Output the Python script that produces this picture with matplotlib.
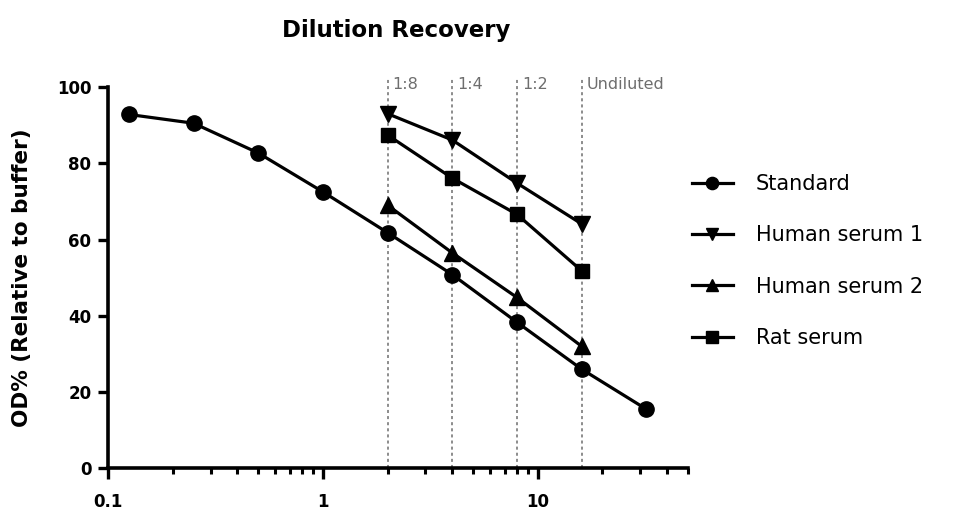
import matplotlib
matplotlib.use("Agg")
import matplotlib.pyplot as plt
from matplotlib.ticker import LogLocator, FixedLocator, FixedFormatter, NullFormatter

# ---- data ----
standard_x = [0.125, 0.25, 0.5, 1, 2, 4, 8, 16, 32]
standard_y = [92.8, 90.5, 82.7, 72.5, 61.8, 50.8, 38.3, 26.0, 15.5]

serum_x = [2, 4, 8, 16]
human1_y = [93.0, 86.1, 74.8, 64.1]
human2_y = [69.0, 56.5, 44.8, 32.0]
rat_y = [87.4, 76.1, 66.6, 51.8]

dilution_x = [2, 4, 8, 16]
dilution_labels = ["1:8", "1:4", "1:2", "Undiluted"]

x_ticks = [0.1, 1, 10]
x_tick_labels = ["0.1", "1", "10"]
y_ticks = [0, 20, 40, 60, 80, 100]

title = "Dilution Recovery"
y_label = "OD% (Relative to buffer)"

W, H = 976, 513
fig = plt.figure(figsize=(W / 100, H / 100), dpi=100)
ax_l, ax_r, ax_b, ax_t = 108, 688, 468.3, 87
ax = fig.add_axes([ax_l / W, 1 - ax_b / H, (ax_r - ax_l) / W, (ax_b - ax_t) / H])

ax.set_xscale("log")
ax.set_xlim(0.1, 50)
ax.set_ylim(0, 100)

# dilution reference lines
for xv, lab in zip(dilution_x, dilution_labels):
    ax.axvline(xv, ymin=0, ymax=1.025, color="#6e6e6e", lw=1.1,
               linestyle=(0, (2.0, 2.0)), clip_on=False, zorder=1)
    ax.annotate(lab, xy=(xv, 100.6), xytext=(3.5, 0), textcoords="offset points",
                ha="left", va="center", fontsize=11.5, color="#6e6e6e",
                annotation_clip=False)

lw = 2.3
ax.plot(standard_x, standard_y, color="black", lw=lw, marker="o", ms=11,
        label="Standard", zorder=3, clip_on=False)
ax.plot(serum_x, human1_y, color="black", lw=lw, marker="v", ms=11,
        label="Human serum 1", zorder=3)
ax.plot(serum_x, human2_y, color="black", lw=lw, marker="^", ms=11,
        label="Human serum 2", zorder=3)
ax.plot(serum_x, rat_y, color="black", lw=lw, marker="s", ms=10,
        label="Rat serum", zorder=3)

# axes styling
for s in ["top", "right"]:
    ax.spines[s].set_visible(False)
for s in ["left", "bottom"]:
    ax.spines[s].set_linewidth(2.6)
    ax.spines[s].set_capstyle("projecting")

ax.xaxis.set_major_locator(FixedLocator(x_ticks))
ax.xaxis.set_major_formatter(FixedFormatter(x_tick_labels))
ax.xaxis.set_minor_locator(LogLocator(base=10, subs=range(2, 10), numticks=20))
ax.xaxis.set_minor_formatter(NullFormatter())
ax.set_yticks(y_ticks)
ax.set_yticklabels([str(v) for v in y_ticks])

ax.tick_params(axis="x", which="major", length=8, width=2.4, pad=10,
               labelsize=12)
ax.tick_params(axis="x", which="minor", length=4.5, width=2.2)
ax.tick_params(axis="y", which="major", length=7, width=2.4, pad=5,
               labelsize=12)
for lab in ax.get_xticklabels() + ax.get_yticklabels():
    lab.set_fontweight("bold")

ax.set_ylabel(y_label, fontsize=15.5, fontweight="bold")
ax.yaxis.set_label_coords((32 - ax_l) / (ax_r - ax_l), 0.5)

fig.text(396 / W, 1 - 31 / H, title, ha="center", va="center",
         fontsize=16.5, fontweight="bold")

leg = ax.legend(loc="center left", bbox_to_anchor=(692 / W, 1 - 261 / H),
                bbox_transform=fig.transFigure, frameon=False,
                fontsize=15, handlelength=1.95, handletextpad=1.1,
                labelspacing=1.5, borderpad=0, borderaxespad=0,
                markerscale=0.8)

fig.savefig("out.png", dpi=100)
